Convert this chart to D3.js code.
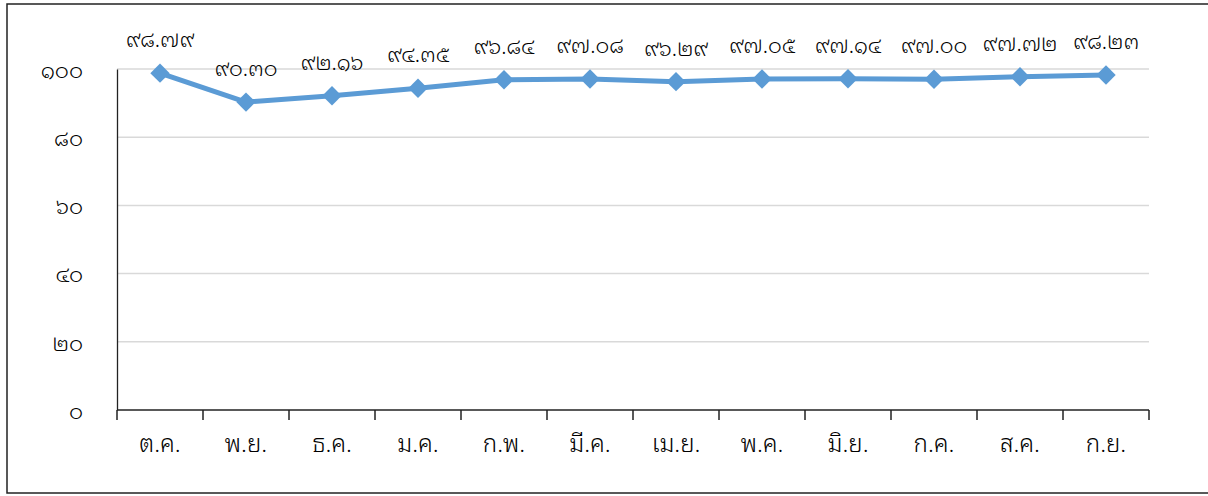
<!DOCTYPE html>
<html>
<head>
<meta charset="utf-8">
<script src="https://cdn.jsdelivr.net/npm/d3@7/dist/d3.min.js"></script>
<style>
  html, body { margin: 0; padding: 0; background: #fff; }
  svg text { font-family: "Noto Sans Thai Looped", "Noto Sans Thai", "Loma", "Garuda", "Norasi", "Kinnari", "DejaVu Sans", "Noto Sans", sans-serif; font-weight: 300; fill: #000; }
</style>
</head>
<body>
<svg id="chart" width="1208" height="496"></svg>
<script>
// Monthly values (fiscal year, Oct–Sep)
const months = ["ต.ค.", "พ.ย.", "ธ.ค.", "ม.ค.", "ก.พ.", "มี.ค.", "เม.ย.", "พ.ค.", "มิ.ย.", "ก.ค.", "ส.ค.", "ก.ย."];
const values = [98.79, 90.30, 92.16, 94.35, 96.84, 97.08, 96.29, 97.05, 97.14, 97.00, 97.72, 98.23];
const yTicks = [0, 20, 40, 60, 80, 100];

const thaiDigits = "๐๑๒๓๔๕๖๗๘๙";
const toThai = s => String(s).replace(/[0-9]/g, d => thaiDigits[+d]);

const svg = d3.select("#chart");
const W = 1208, H = 496;
const margin = { left: 117, right: 59, top: 69, bottom: 86 };

// outer frame
svg.append("rect")
  .attr("x", 7).attr("y", 4)
  .attr("width", 1210).attr("height", 489)
  .attr("fill", "none").attr("stroke", "#222").attr("stroke-width", 1.5);

const x = d3.scaleBand()
  .domain(months)
  .range([margin.left, W - margin.right])
  .paddingInner(0).paddingOuter(0);

const y = d3.scaleLinear()
  .domain([0, 100])
  .range([H - margin.bottom, margin.top]);

// horizontal gridlines
svg.append("g")
  .selectAll("line")
  .data(yTicks.filter(t => t > 0))
  .join("line")
  .attr("x1", margin.left).attr("x2", W - margin.right)
  .attr("y1", d => y(d)).attr("y2", d => y(d))
  .attr("stroke", "#d9d9d9").attr("stroke-width", 1.5);

// y axis
const yAxis = svg.append("g")
  .attr("transform", `translate(${margin.left},0)`)
  .call(d3.axisLeft(y).tickValues(yTicks).tickSize(0).tickPadding(34).tickFormat(d => toThai(d)));
yAxis.select(".domain").attr("stroke", "#222").attr("stroke-width", 1.3);
yAxis.selectAll("text").attr("font-size", 22).attr("dy", "0.38em").style("font-family", null);

// x axis with boundary ticks
const xAxisG = svg.append("g")
  .attr("transform", `translate(0,${y(0)})`);
xAxisG.append("line")
  .attr("x1", margin.left).attr("x2", W - margin.right)
  .attr("stroke", "#222").attr("stroke-width", 1.5);
const bounds = months.map(m => x(m)).concat([x(months[months.length - 1]) + x.bandwidth()]);
xAxisG.selectAll("line.tick")
  .data(bounds)
  .join("line")
  .attr("class", "tick")
  .attr("x1", d => d).attr("x2", d => d)
  .attr("y1", 0).attr("y2", 10)
  .attr("stroke", "#222").attr("stroke-width", 1.5);
xAxisG.selectAll("text")
  .data(months)
  .join("text")
  .attr("x", d => x(d) + x.bandwidth() / 2)
  .attr("y", 33)
  .attr("dy", "0.38em")
  .attr("text-anchor", "middle")
  .attr("font-size", 24)
  .text(d => d);

const cx = (d, i) => x(months[i]) + x.bandwidth() / 2;

// line
const line = d3.line()
  .x((d, i) => cx(d, i))
  .y(d => y(d));
svg.append("path")
  .datum(values)
  .attr("d", line)
  .attr("fill", "none")
  .attr("stroke", "#5b9bd5")
  .attr("stroke-width", 5)
  .attr("stroke-linejoin", "round");

// diamond markers
svg.append("g")
  .selectAll("path")
  .data(values)
  .join("path")
  .attr("transform", (d, i) => `translate(${cx(d, i)},${y(d)})`)
  .attr("d", d3.symbol().type(d3.symbolDiamond2).size(240))
  .attr("fill", "#5b9bd5");

// value labels
svg.append("g")
  .selectAll("text")
  .data(values)
  .join("text")
  .attr("x", (d, i) => cx(d, i))
  .attr("y", d => y(d) - 34)
  .attr("dy", "0.38em")
  .attr("text-anchor", "middle")
  .attr("font-size", 21.5)
  .text(d => toThai(d.toFixed(2)));
</script>
</body>
</html>
